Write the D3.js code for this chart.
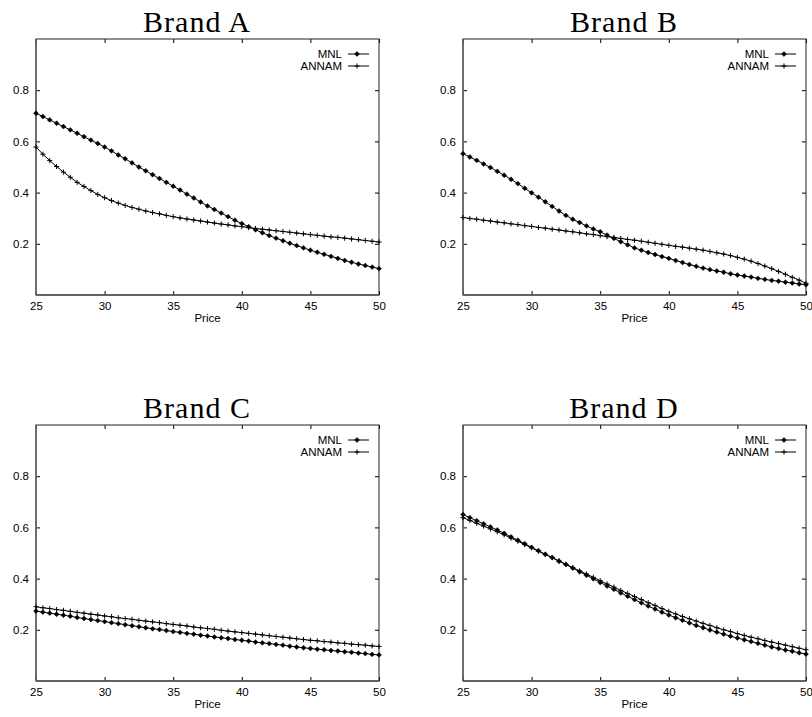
<!DOCTYPE html>
<html>
<head>
<meta charset="utf-8">
<script src="https://cdn.jsdelivr.net/npm/d3@7"></script>
<style>
	body { margin: 0; background: #fff; }
	.tick text { font-family: "Liberation Sans", Arial, sans-serif; font-size: 11.5px; fill: #000; }
	.tick line { stroke: #000; }
	.legend text, .xlabel { font-family: "Liberation Sans", Arial, sans-serif; font-size: 11.5px; fill: #000; }
	.title { font-family: "Liberation Serif", "Times New Roman", serif; font-size: 30px; letter-spacing: 1px; fill: #000; }
</style>
</head>
<body>
<div id="chart"></div>
<script>
var price = [25, 25.5, 26, 26.5, 27, 27.5, 28, 28.5, 29, 29.5, 30, 30.5, 31, 31.5, 32, 32.5, 33, 33.5, 34, 34.5,
	35, 35.5, 36, 36.5, 37, 37.5, 38, 38.5, 39, 39.5, 40, 40.5, 41, 41.5, 42, 42.5, 43, 43.5, 44, 44.5,
	45, 45.5, 46, 46.5, 47, 47.5, 48, 48.5, 49, 49.5, 50];

var xTicks = [25, 30, 35, 40, 45, 50];
var yTicks = [0.2, 0.4, 0.6, 0.8];
var brands = ["Brand A", "Brand B", "Brand C", "Brand D"];
var seriesNames = ["MNL", "ANNAM"];

var mnlA = [.710, .697, .684, .671, .658, .645, .632, .618, .605, .592, .578, .563, .547, .532, .516, .500, .485, .470, .455, .440,
	.425, .410, .394, .379, .363, .348, .334, .320, .306, .292, .279, .267, .255, .243, .232, .222, .212, .202, .193, .184,
	.175, .167, .159, .151, .143, .135, .128, .121, .115, .109, .103];
var annamA = [.578, .550, .525, .502, .480, .460, .440, .424, .408, .393, .380, .369, .359, .350, .342, .335, .328, .322, .317, .311,
	.306, .301, .297, .293, .289, .285, .281, .277, .274, .270, .267, .263, .260, .257, .254, .251, .248, .245, .242, .239,
	.236, .233, .230, .227, .225, .222, .219, .216, .213, .210, .207];

var mnlB = [.552, .539, .526, .512, .498, .483, .468, .452, .435, .417, .399, .382, .364, .346, .328, .311, .296, .283, .270, .258,
	.247, .234, .221, .208, .196, .184, .175, .166, .158, .150, .143, .135, .127, .119, .112, .105, .099, .094, .089, .083,
	.078, .074, .070, .065, .061, .057, .054, .050, .047, .043, .040];
var annamB = [.303, .299, .296, .292, .289, .285, .282, .278, .275, .271, .268, .264, .261, .257, .254, .250, .247, .243, .239, .236,
	.232, .228, .225, .221, .217, .214, .210, .206, .202, .198, .194, .190, .187, .183, .179, .175, .170, .165, .160, .154,
	.147, .140, .132, .123, .113, .103, .092, .081, .069, .058, .046];

var mnlC = [.273, .269, .265, .261, .257, .253, .248, .244, .240, .236, .232, .228, .224, .220, .216, .212, .208, .204, .201, .197,
	.193, .190, .186, .183, .179, .176, .172, .169, .166, .162, .159, .156, .152, .149, .146, .143, .140, .136, .133, .130,
	.127, .124, .122, .119, .117, .114, .112, .109, .107, .104, .102];
var annamC = [.290, .286, .283, .279, .276, .272, .268, .265, .261, .258, .254, .251, .247, .244, .241, .237, .234, .231, .228, .224,
	.221, .218, .215, .211, .208, .205, .202, .198, .195, .192, .189, .186, .183, .180, .177, .174, .171, .168, .165, .162,
	.159, .157, .154, .152, .149, .147, .144, .142, .140, .137, .135];

var mnlD = [.650, .638, .626, .614, .602, .590, .577, .563, .550, .536, .522, .509, .495, .482, .468, .455, .441, .427, .413, .399,
	.385, .371, .358, .344, .331, .318, .305, .293, .281, .269, .258, .247, .237, .227, .217, .208, .199, .191, .183, .175,
	.168, .161, .154, .147, .140, .133, .127, .121, .116, .110, .105];
var annamD = [.638, .627, .616, .605, .594, .583, .571, .558, .546, .533, .520, .507, .494, .482, .469, .456, .443, .430, .418, .405,
	.392, .379, .367, .354, .342, .330, .318, .306, .295, .283, .272, .262, .252, .243, .234, .225, .217, .208, .200, .193,
	.185, .178, .171, .165, .158, .152, .146, .140, .134, .128, .122];

var panelData = [[mnlA, annamA], [mnlB, annamB], [mnlC, annamC], [mnlD, annamD]];

var plotW = 343,
	plotH = 256;
var origins = [[36, 39], [463, 39], [36, 425], [463, 425]];

var svg = d3.select("#chart").append("svg")
	.attr("width", 812)
	.attr("height", 717);

var xScale = d3.scaleLinear().domain([25, 50]).range([0, plotW]);
var yScale = d3.scaleLinear().domain([0, 1]).range([plotH, 0]);

var markerMNL = d3.symbol().type(d3.symbolSquare).size(12);
var markerANNAM = d3.symbol().type(d3.symbolPlus).size(10);

brands.forEach(function(brand, i) {
	var g = svg.append("g")
		.attr("transform", "translate(" + origins[i][0] + "," + origins[i][1] + ")");

	g.append("text")
		.attr("class", "title")
		.attr("x", 161)
		.attr("y", -7)
		.attr("text-anchor", "middle")
		.text(brand);

	// axes with inward ticks, labels only on bottom / left
	var xAxis = d3.axisBottom(xScale).tickValues(xTicks).tickSizeInner(-4).tickSizeOuter(0).tickPadding(7);
	var yAxis = d3.axisLeft(yScale).tickValues(yTicks).tickSizeInner(-4).tickSizeOuter(0).tickPadding(7)
		.tickFormat(d3.format(".1f"));

	g.append("g").attr("transform", "translate(0," + plotH + ")").call(xAxis);
	g.append("g").call(yAxis);
	g.append("g").call(d3.axisTop(xScale).tickValues(xTicks).tickSizeInner(-4).tickSizeOuter(0).tickFormat(""));
	g.append("g").attr("transform", "translate(" + plotW + ",0)")
		.call(d3.axisRight(yScale).tickValues(yTicks).tickSizeInner(-4).tickSizeOuter(0).tickFormat(""));
	g.selectAll(".domain").remove();

	g.append("rect")
		.attr("width", plotW)
		.attr("height", plotH)
		.attr("fill", "none")
		.attr("stroke", "#222")
		.attr("stroke-width", 1);

	// scanned look: left and bottom edges a bit heavier and grey
	g.append("line")
		.attr("x1", 0).attr("x2", 0)
		.attr("y1", 0).attr("y2", plotH)
		.attr("stroke", "#666")
		.attr("stroke-width", 1.6);
	g.append("line")
		.attr("x1", 0).attr("x2", plotW)
		.attr("y1", plotH).attr("y2", plotH)
		.attr("stroke", "#555")
		.attr("stroke-width", 1.4);

	g.append("text")
		.attr("class", "xlabel")
		.attr("x", plotW / 2)
		.attr("y", plotH + 27)
		.attr("text-anchor", "middle")
		.text("Price");

	var line = d3.line()
		.x(function(d, k) { return xScale(price[k]); })
		.y(function(d) { return yScale(d); });

	panelData[i].forEach(function(values, s) {
		g.append("path")
			.datum(values)
			.attr("fill", "none")
			.attr("stroke", "#000")
			.attr("stroke-width", 1)
			.attr("d", line);

		g.selectAll(".m" + s)
			.data(values)
			.enter()
			.append("path")
			.attr("class", "m" + s)
			.attr("transform", function(d, k) {
				return "translate(" + xScale(price[k]) + "," + yScale(d) + ")" + (s === 0 ? " rotate(45)" : "");
			})
			.attr("d", s === 0 ? markerMNL : markerANNAM)
			.attr("fill", s === 0 ? "#000" : "none")
			.attr("stroke", "#000")
			.attr("stroke-width", s === 0 ? 0.5 : 1);
	});

	// legend
	var legend = g.append("g").attr("class", "legend");
	seriesNames.forEach(function(name, s) {
		var ly = 15 + s * 12;
		legend.append("text")
			.attr("x", plotW - 37)
			.attr("y", ly)
			.attr("dy", "0.35em")
			.attr("text-anchor", "end")
			.text(name);
		legend.append("line")
			.attr("x1", plotW - 31)
			.attr("x2", plotW - 10)
			.attr("y1", ly)
			.attr("y2", ly)
			.attr("stroke", "#000");
		legend.append("path")
			.attr("transform", "translate(" + (plotW - 22) + "," + ly + ")" + (s === 0 ? " rotate(45)" : ""))
			.attr("d", s === 0 ? markerMNL : markerANNAM)
			.attr("fill", s === 0 ? "#000" : "none")
			.attr("stroke", "#000")
			.attr("stroke-width", s === 0 ? 0.5 : 1);
	});
});
</script>
</body>
</html>
